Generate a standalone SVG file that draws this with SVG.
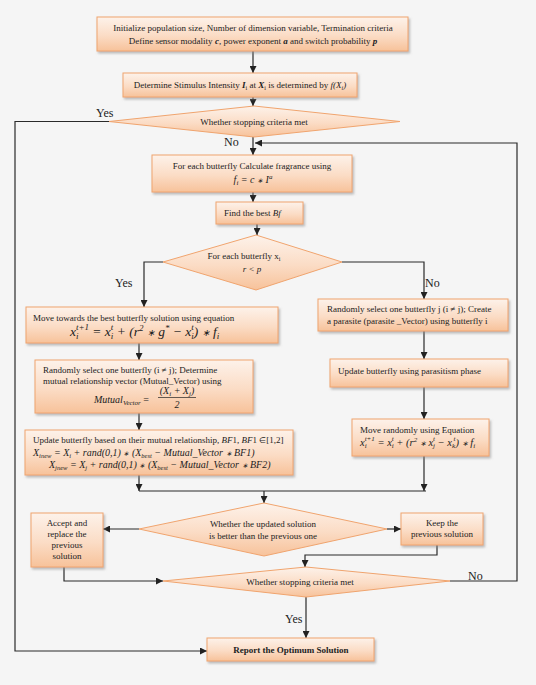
<svg xmlns="http://www.w3.org/2000/svg" width="536" height="685" viewBox="0 0 536 685">
<defs>
<linearGradient id="bg" x1="0" y1="0" x2="0" y2="1">
<stop offset="0" stop-color="#fdf2ea"/>
<stop offset="0.55" stop-color="#fbdcc5"/>
<stop offset="1" stop-color="#f7c29a"/>
</linearGradient>
<filter id="sh" x="-10%" y="-10%" width="125%" height="140%">
<feDropShadow dx="1.5" dy="2" stdDeviation="0.8" flood-color="#8a8a8a" flood-opacity="0.55"/>
</filter>
<marker id="ar" markerWidth="7" markerHeight="7" refX="7" refY="3.5" orient="auto" markerUnits="userSpaceOnUse">
<path d="M0,0 L7,3.5 L0,7 z" fill="#222"/>
</marker>
<style>
.box{fill:url(#bg);stroke:#f0a46e;stroke-width:1;filter:url(#sh)}
.dia{fill:url(#bg);stroke:#f0a46e;stroke-width:1}
.t{font-family:"Liberation Serif","Times New Roman",serif;font-size:9px;fill:#222}
.c{text-anchor:middle}
.m{font-family:"Liberation Serif","Times New Roman",serif;font-style:italic;fill:#222}
.lb{font-family:"Liberation Serif","Times New Roman",serif;font-size:12px;fill:#222}
.ln{fill:none;stroke:#2a2a2a;stroke-width:1.2}
.op{font-size:70%}
</style>
</defs>
<rect width="536" height="685" fill="#f5f5f5"/>

<g id="connectors">
<path class="ln" d="M253,51 V73" marker-end="url(#ar)"/>
<path class="ln" d="M253,97 V106" marker-end="url(#ar)"/>
<path class="ln" d="M109,121.5 H15 V651 H207" marker-end="url(#ar)"/>
<path class="ln" d="M253,137 V155" marker-end="url(#ar)"/>
<path class="ln" d="M450,581 H517 V143 H255" marker-end="url(#ar)"/>
<path class="ln" d="M253,192 V202" marker-end="url(#ar)"/>
<path class="ln" d="M257,224 V235" marker-end="url(#ar)"/>
<path class="ln" d="M163,262 H144 V307" marker-end="url(#ar)"/>
<path class="ln" d="M342,262 H424 V299" marker-end="url(#ar)"/>
<path class="ln" d="M139,343 V360" marker-end="url(#ar)"/>
<path class="ln" d="M139,413 V430" marker-end="url(#ar)"/>
<path class="ln" d="M139,475 V491" marker-end="url(#ar)"/>
<path class="ln" d="M139,491 H426"/>
<path class="ln" d="M424,331 V359" marker-end="url(#ar)"/>
<path class="ln" d="M424,387 V419" marker-end="url(#ar)"/>
<path class="ln" d="M424,456 V491" marker-end="url(#ar)"/>
<path class="ln" d="M264,491 V503" marker-end="url(#ar)"/>
<path class="ln" d="M139,529 H103" marker-end="url(#ar)"/>
<path class="ln" d="M387,529 H401" marker-end="url(#ar)"/>
<path class="ln" d="M437,545 V555 H305 V567" marker-end="url(#ar)"/>
<path class="ln" d="M64,567 V581 H163" marker-end="url(#ar)"/>
<path class="ln" d="M306,597 V638" marker-end="url(#ar)"/>
<text class="lb" x="96" y="117">Yes</text>
<text class="lb" x="224" y="146">No</text>
<text class="lb" x="115" y="287">Yes</text>
<text class="lb" x="425" y="287">No</text>
<text class="lb" x="468" y="580">No</text>
<text class="lb" x="285" y="623">Yes</text>
</g>

<g id="init">
<rect class="box" x="97" y="17" width="311" height="34"/>
<text class="t c" x="253" y="31">Initialize population size, Number of dimension variable, Termination criteria</text>
<text class="t c" x="253" y="44">Define sensor modality <tspan font-weight="bold" font-style="italic">c</tspan>, power exponent <tspan font-weight="bold" font-style="italic">a</tspan> and switch probability <tspan font-weight="bold" font-style="italic">p</tspan></text>
</g>

<g id="stimulus">
<rect class="box" x="123" y="73" width="234" height="24"/>
<text class="t c" x="240" y="88">Determine Stimulus Intensity <tspan font-weight="bold" font-style="italic">I</tspan><tspan font-size="6" dy="2">i</tspan><tspan dy="-2"> at </tspan><tspan font-weight="bold" font-style="italic">X</tspan><tspan font-size="6" dy="2">i</tspan><tspan dy="-2"> is determined by </tspan><tspan font-style="italic">f(X</tspan><tspan font-size="6" dy="2" font-style="italic">i</tspan><tspan dy="-2" font-style="italic">)</tspan></text>
</g>

<g id="stop1">
<polygon class="dia" points="109,121.5 254,106 400,121.5 254,137"/>
<text class="t c" x="254" y="125">Whether stopping criteria met</text>
</g>

<g id="fragrance">
<rect class="box" x="152" y="155" width="200" height="37"/>
<text class="t c" x="252" y="169">For each butterfly Calculate fragrance using</text>
<text class="m c" font-size="10" x="253" y="183">f<tspan font-size="7" dy="2">i</tspan><tspan dy="-2"> = c </tspan><tspan class="op">∗</tspan><tspan> I</tspan><tspan font-size="7" dy="-4">a</tspan></text>
</g>

<g id="best">
<rect class="box" x="216" y="202" width="87" height="22"/>
<text class="t" x="224" y="216">Find the best <tspan font-style="italic">Bf</tspan></text>
</g>

<g id="switch">
<polygon class="dia" points="163,262 256,235 342,262 256,290"/>
<text class="t c" x="244" y="259">For each butterfly x<tspan font-size="6" dy="2">i</tspan></text>
<text class="m c" font-size="9" x="252" y="272">r &lt; p</text>
</g>

<g id="global">
<rect class="box" x="26" y="307" width="252" height="36"/>
<text class="t" x="33" y="321">Move towards the best butterfly solution using equation</text>
<text class="m" font-size="13.5" x="70" y="336">x<tspan font-size="9" dy="3">i</tspan><tspan font-size="9" dx="-2.6" dy="-9.5">t+1</tspan><tspan dy="6.5"> = x</tspan><tspan font-size="9" dy="3">i</tspan><tspan font-size="9" dx="-2.6" dy="-9.5">t</tspan><tspan dy="6.5"> + (r</tspan><tspan font-size="9" dy="-5.5">2</tspan><tspan dy="5.5"> </tspan><tspan class="op">∗</tspan><tspan> g</tspan><tspan font-size="9" dy="-5.5">*</tspan><tspan dy="5.5"> − x</tspan><tspan font-size="9" dy="3">i</tspan><tspan font-size="9" dx="-2.6" dy="-9.5">t</tspan><tspan dy="6.5">) </tspan><tspan class="op">∗</tspan><tspan> f</tspan><tspan font-size="9" dy="3">i</tspan></text>
</g>

<g id="mutual">
<rect class="box" x="35" y="360" width="218" height="53"/>
<text class="t" x="43" y="373">Randomly select one butterfly (i ≠ j); Determine</text>
<text class="t" x="43" y="384">mutual relationship vector (Mutual_Vector) using</text>
<text class="m" font-size="10" x="94" y="403">Mutual<tspan font-size="7" dy="2">Vector</tspan><tspan font-style="normal" dy="-2"> = </tspan></text>
<text class="m c" font-size="10" x="177" y="394">(X<tspan font-size="7" dy="2">i</tspan><tspan dy="-2"> + X</tspan><tspan font-size="7" dy="2">j</tspan><tspan dy="-2">)</tspan></text>
<path d="M158,397.5 H196" stroke="#222" stroke-width="0.7"/>
<text class="m c" font-size="10" font-style="normal" x="177" y="408">2</text>
</g>

<g id="update">
<rect class="box" x="25" y="430" width="268" height="45"/>
<text class="t" x="33" y="443">Update butterfly based on their mutual relationship, <tspan font-style="italic">BF</tspan>1, <tspan font-style="italic">BF</tspan>1 <tspan font-size="8">∈</tspan>[1,2]</text>
<text class="m" font-size="10" x="33" y="456">X<tspan font-size="6.5" dy="2">inew</tspan><tspan dy="-2"> = X</tspan><tspan font-size="6.5" dy="2">i</tspan><tspan dy="-2"> + rand(0,1) </tspan><tspan class="op">∗</tspan><tspan> (X</tspan><tspan font-size="6.5" dy="2">best</tspan><tspan dy="-2"> − Mutual_Vector </tspan><tspan class="op">∗</tspan><tspan> BF1)</tspan></text>
<text class="m" font-size="10" x="49" y="468">X<tspan font-size="6.5" dy="2">jnew</tspan><tspan dy="-2"> = X</tspan><tspan font-size="6.5" dy="2">j</tspan><tspan dy="-2"> + rand(0,1) </tspan><tspan class="op">∗</tspan><tspan> (X</tspan><tspan font-size="6.5" dy="2">best</tspan><tspan dy="-2"> − Mutual_Vector </tspan><tspan class="op">∗</tspan><tspan> BF2)</tspan></text>
</g>

<g id="parasite">
<rect class="box" x="318" y="299" width="190" height="32"/>
<text class="t" x="327" y="312">Randomly select one butterfly j (i ≠ j); Create</text>
<text class="t" x="327" y="324">a parasite (parasite _Vector) using butterfly i</text>
</g>

<g id="parasitism">
<rect class="box" x="330" y="359" width="178" height="28"/>
<text class="t" x="338" y="374">Update butterfly using parasitism phase</text>
</g>

<g id="local">
<rect class="box" x="352" y="419" width="137" height="37"/>
<text class="t" x="360" y="433">Move randomly using Equation</text>
<text class="m" font-size="10.5" x="360" y="446">x<tspan font-size="7" dy="2">i</tspan><tspan font-size="7" dx="-2" dy="-7">t+1</tspan><tspan dy="5"> = x</tspan><tspan font-size="7" dy="2">i</tspan><tspan font-size="7" dx="-2" dy="-7">t</tspan><tspan dy="5"> + (r</tspan><tspan font-size="7" dy="-4">2</tspan><tspan dy="4"> </tspan><tspan class="op">∗</tspan><tspan> x</tspan><tspan font-size="7" dy="2">j</tspan><tspan font-size="7" dx="-2" dy="-7">t</tspan><tspan dy="5"> − x</tspan><tspan font-size="7" dy="2">k</tspan><tspan font-size="7" dx="-1.5" dy="-7">t</tspan><tspan dy="5">) </tspan><tspan class="op">∗</tspan><tspan> f</tspan><tspan font-size="7" dy="2">i</tspan></text>
</g>

<g id="compare">
<polygon class="dia" points="139,529 264,503 387,529 264,556"/>
<text class="t c" x="263" y="527">Whether the updated solution</text>
<text class="t c" x="263" y="539">is better than the previous one</text>
</g>

<g id="accept">
<rect class="box" x="31" y="513" width="72" height="54"/>
<text class="t c" x="67" y="526">Accept and</text>
<text class="t c" x="67" y="537">replace the</text>
<text class="t c" x="67" y="548">previous</text>
<text class="t c" x="67" y="559">solution</text>
</g>

<g id="keep">
<rect class="box" x="401" y="513" width="82" height="32"/>
<text class="t c" x="442" y="526">Keep the</text>
<text class="t c" x="442" y="537">previous solution</text>
</g>

<g id="stop2">
<polygon class="dia" points="163,581 306,567 450,581 306,597"/>
<text class="t c" x="300" y="585">Whether stopping criteria met</text>
</g>

<g id="report">
<rect class="box" x="207" y="638" width="167" height="23"/>
<text class="t c" x="291" y="653" font-weight="bold">Report the Optimum Solution</text>
</g>
</svg>
